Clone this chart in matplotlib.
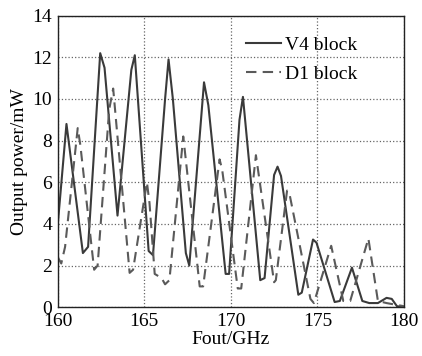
import numpy as np
import matplotlib
matplotlib.use("Agg")
import matplotlib.pyplot as plt

# V4 block (solid)
v4_freq = [160.0, 160.5, 161.45, 161.75, 162.45, 162.7, 163.45, 164.25, 164.45,
           165.25, 165.5, 166.2, 166.4, 166.65, 167.4, 167.6, 168.45, 168.7,
           169.7, 169.9, 170.5, 170.7, 171.7, 171.95, 172.5, 172.7, 172.9,
           173.9, 174.1, 174.75, 174.95, 176.0, 176.3, 177.0, 177.6, 178.0,
           178.5, 179.0, 179.3, 179.6, 180.0]
v4_power = [4.0, 8.8, 2.6, 2.9, 12.2, 11.5, 4.4, 11.4, 12.1,
            2.7, 2.5, 10.0, 11.9, 10.0, 2.6, 2.0, 10.8, 9.7,
            1.6, 1.6, 9.0, 10.1, 1.3, 1.4, 6.35, 6.75, 6.3,
            0.6, 0.7, 3.25, 3.1, 0.25, 0.3, 1.9, 0.3, 0.2,
            0.2, 0.45, 0.4, 0.05, 0.0]

# D1 block (dashed)
d1_freq = [160.0, 160.2, 160.42, 161.15, 161.3, 162.1, 162.3, 162.97, 163.2,
           164.15, 164.35, 165.15, 165.3, 165.6, 166.0, 166.2, 166.45, 167.25,
           168.2, 168.4, 169.35, 169.5, 170.4, 170.6, 171.45, 172.5, 172.6,
           173.25, 173.4, 174.6, 174.8, 175.8, 176.5, 176.9, 177.95, 178.5,
           179.0, 180.0]
d1_power = [2.4, 2.1, 2.9, 8.6, 7.8, 1.8, 2.0, 9.5, 10.5,
            1.65, 1.8, 6.0, 5.0, 1.6, 1.4, 1.1, 1.3, 8.2,
            1.0, 1.0, 7.1, 6.6, 0.9, 0.9, 7.3, 1.2, 1.3,
            5.6, 5.4, 0.4, 0.2, 2.95, 0.3, 0.3, 3.3, 0.3,
            0.2, 0.05]

xticks = [160, 165, 170, 175, 180]
yticks = [0, 2, 4, 6, 8, 10, 12, 14]

plt.rcParams['font.family'] = ['Liberation Serif', 'DejaVu Serif']
fig = plt.figure(figsize=(4.22, 3.56), dpi=100, facecolor='w')
ax = fig.add_axes([0.137, 0.137, 0.820, 0.819])

ax.plot(v4_freq, v4_power, color='#3a3a3a', lw=1.5, ls='-', label='V4 block')
ax.plot(d1_freq, d1_power, color='#5a5a5a', lw=1.5, ls=(0, (5, 3)), label='D1 block')

ax.set_xlim(160, 180)
ax.set_ylim(0, 14)
ax.set_xticks(xticks)
ax.set_yticks(yticks)
ax.tick_params(length=0, labelsize=14, pad=4)
ax.grid(True, color='#666666', ls=':', lw=0.9)
for s in ax.spines.values():
    s.set_linewidth(1.0)
    s.set_color('#222222')

ax.set_xlabel('Fout/GHz', fontsize=14, labelpad=1)
ax.set_ylabel('Output power/mW', fontsize=14, labelpad=3)
ax.legend(loc='upper left', bbox_to_anchor=(0.544, 0.928), frameon=False,
          borderaxespad=0, borderpad=0,
          fontsize=14, handlelength=1.8, handletextpad=0.2, labelspacing=0.55)

plt.savefig('out.png', dpi=100)
